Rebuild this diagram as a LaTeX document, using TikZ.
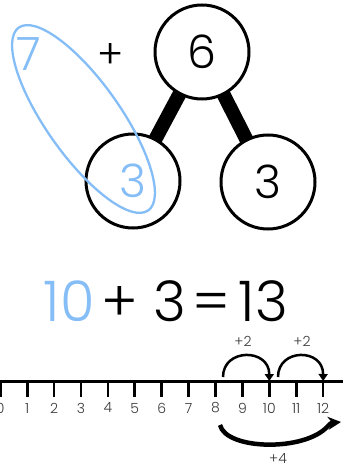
\documentclass[tikz,border=0pt]{standalone}
\usepackage{fontspec}
\IfFontExistsTF{Poppins Light}{\setmainfont{Poppins Light}}{\setmainfont{Poppins}}
\usetikzlibrary{arrows.meta, positioning, backgrounds}
\definecolor{pairblue}{HTML}{85BDF7}
\definecolor{tickgray}{HTML}{3A3A3A}

\begin{document}
\begin{tikzpicture}[x=1pt, y=-1pt,
    part/.style={circle, draw, line width=3pt, fill=white, minimum size=94pt, inner sep=0pt, font=\fontsize{46}{46}\selectfont},
    jump/.style={line width=2.5pt, -{Triangle[width=9pt,length=7pt]}},
    jumplabel/.style={font=\fontsize{14}{14}\selectfont, text=tickgray}]
    \useasboundingbox (0,0) rectangle (343,470);
    % part-whole model
    \node[part] (whole) at (202,52) {6};
    \node[part] (left) at (133,181) {\textcolor{pairblue}{3}};
    \node[part] (right) at (268,182) {3};
    \begin{pgfonlayer}{background}
        \draw[line width=14pt] (whole.center) -- (left.center);
        \draw[line width=14pt] (whole.center) -- (right.center);
    \end{pgfonlayer}
    \node[text=pairblue, font=\fontsize{46}{46}\selectfont] (seven) at (29,54) {7};
    \node[font=\fontsize{40}{40}\selectfont] (plus) at (111,56) {+};
    \draw[pairblue, line width=2.3pt, rotate around={-54.7:(83.5,119)}] (83.5,119) ellipse [x radius=112, y radius=37];
    % make ten
    \node[font=\fontsize{56}{56}\selectfont, inner sep=0pt] (sum) at (166,301)
        {\textcolor{pairblue}{10}\hspace{7pt}+\hspace{15pt}3\hspace{6pt}=\hspace{9pt}13};
    % number line
    \coordinate (lineL) at (0,381);
    \coordinate (lineR) at (343,381);
    \draw[line width=3pt] (lineL) -- (lineR);
    \foreach \i in {0,...,12}{
        \coordinate (t\i) at (\i*26.9+0.3,381);
        \draw[line width=2.7pt] (t\i) -- ++(0,16);
        \node[font=\fontsize{14}{14}\selectfont, text=tickgray] (n\i) at (\i*26.9+0.3,408) {\i};
    }
    % jumps
    \coordinate (a1) at (223,377);
    \coordinate (a2) at (278,377);
    \coordinate (b1) at (220,425);
    \draw[jump] (a1) .. controls (223,348) and (269.3,348) .. (t10);
    \draw[jump] (a2) .. controls (278,348) and (323.3,348) .. (t12);
    \node[jumplabel] (j1) at (243,341) {+2};
    \node[jumplabel] (j2) at (302,341) {+2};
    \draw[line width=4.5pt, -{Stealth[width=13pt,length=13pt]}] (b1) .. controls (226,450) and (305,452) .. (328,426) .. controls (331,423) .. (341,422);
    \node[jumplabel] (j3) at (278,459) {+4};
\end{tikzpicture}
\end{document}
